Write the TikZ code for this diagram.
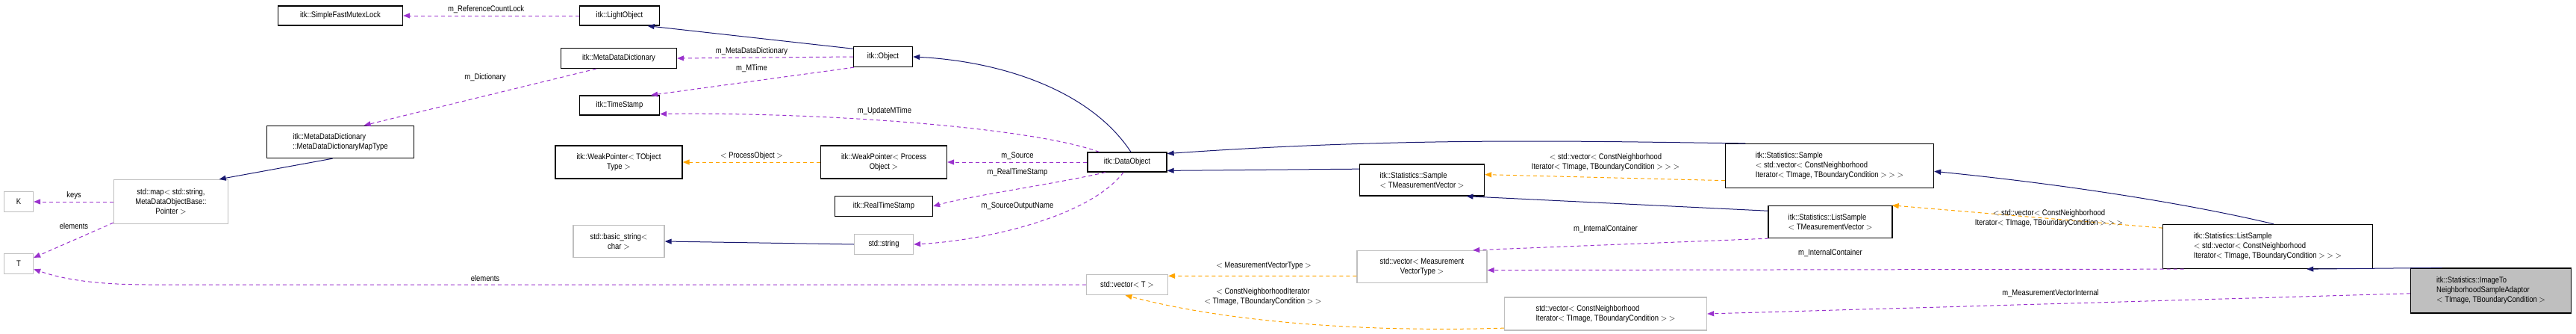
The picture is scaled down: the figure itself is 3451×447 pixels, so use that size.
\documentclass[tikz,border=0pt]{standalone}
\usepackage{fontspec}
\setmainfont{Liberation Sans}[FakeStretch=0.86]
\usetikzlibrary{arrows.meta}
\definecolor{navy}{HTML}{191970}
\definecolor{purp}{HTML}{9A32CD}
\definecolor{orng}{HTML}{FFA500}
\definecolor{gbox}{HTML}{BFBFBF}
\tikzset{
  box/.style={draw=black, line width=1.3pt, fill=white, inner sep=2pt, align=center, font=\fontsize{11}{13}\selectfont},
  gbx/.style={box, draw=gbox},
  lbl/.style={font=\fontsize{11}{13}\selectfont, align=center, inner sep=1pt},
  tip/.style={-{Triangle[length=9pt,width=7pt]}},
  inh/.style={tip, draw=navy, line width=1pt},
  mem/.style={tip, draw=purp, line width=1pt, dash pattern=on 5pt off 4pt},
  tpl/.style={tip, draw=orng, line width=1pt, dash pattern=on 5pt off 4pt},
}
\begin{document}
\begin{tikzpicture}[x=1pt,y=-1pt]
\useasboundingbox (0,0) rectangle (3451,447);
% nodes
\node[box, minimum width=167, minimum height=26] (SFML) at (456,21) {itk::SimpleFastMutexLock};
\node[box, minimum width=107, minimum height=26] (LO) at (830,21) {itk::LightObject};
\node[box, minimum width=155, minimum height=27] (MDD) at (829,78) {itk::MetaDataDictionary};
\node[box, minimum width=79, minimum height=27] (OBJ) at (1183,76) {itk::Object};
\node[box, minimum width=107, minimum height=26] (TS) at (830,141) {itk::TimeStamp};
\node[box, minimum width=197, minimum height=43, align=left] (MDDMT) at (456,190) {itk::MetaDataDictionary\\::MetaDataDictionaryMapType};
\node[gbx, minimum width=153, minimum height=59] (MAP) at (229,270) {std::map$<$ std::string,\\MetaDataObjectBase::\\Pointer $>$};
\node[gbx, minimum width=39, minimum height=27] (K) at (25,270) {K};
\node[gbx, minimum width=39, minimum height=27] (T) at (25,353) {T};
\node[box, minimum width=170, minimum height=44] (WPT) at (829,217) {itk::WeakPointer$<$ TObject\\Type $>$};
\node[box, minimum width=169, minimum height=44] (WPPO) at (1184,217) {itk::WeakPointer$<$ Process\\Object $>$};
\node[box, minimum width=131, minimum height=27] (RTS) at (1184,276) {itk::RealTimeStamp};
\node[gbx, minimum width=122, minimum height=43] (BS) at (829,323) {std::basic\_string$<$\\char $>$};
\node[gbx, minimum width=79, minimum height=27] (STR) at (1184,327) {std::string};
\node[box, minimum width=106, minimum height=26] (DO) at (1510,217) {itk::DataObject};
\node[box, minimum width=167, minimum height=42, align=left] (SMV) at (1905,241) {itk::Statistics::Sample\\$<$ TMeasurementVector $>$};
\node[gbx, minimum width=174, minimum height=43] (VMVT) at (1905,357) {std::vector$<$ Measurement\\VectorType $>$};
\node[gbx, minimum width=109, minimum height=27] (VT) at (1510,381) {std::vector$<$ T $>$};
\node[gbx, minimum width=271, minimum height=44, align=left] (VCN) at (2151,420) {std::vector$<$ ConstNeighborhood\\Iterator$<$ TImage, TBoundaryCondition $>$ $>$};
\node[box, minimum width=279, minimum height=59, align=left] (SV) at (2451,222) {itk::Statistics::Sample\\$<$ std::vector$<$ ConstNeighborhood\\Iterator$<$ TImage, TBoundaryCondition $>$ $>$ $>$};
\node[box, minimum width=166, minimum height=43, align=left] (LSMV) at (2452,297) {itk::Statistics::ListSample\\$<$ TMeasurementVector $>$};
\node[box, minimum width=281, minimum height=59, align=left] (LSV) at (3038,330) {itk::Statistics::ListSample\\$<$ std::vector$<$ ConstNeighborhood\\Iterator$<$ TImage, TBoundaryCondition $>$ $>$ $>$};
\node[box, fill=gbox, minimum width=215, minimum height=60, align=left] (IMG) at (3337,389) {itk::Statistics::ImageTo\\NeighborhoodSampleAdaptor\\$<$ TImage, TBoundaryCondition $>$};
% edges
\draw[mem] (LO.west) -- (SFML.east);
\draw[inh] (OBJ.165) -- (LO.-20);
\draw[mem] (OBJ.west) -- (MDD.east);
\draw[mem] (OBJ.200) -- (TS.18);
\draw[mem] (DO.160) .. controls (1380,170) and (1100,150) .. (TS.-12);
\draw[mem] (MDD.205) -- (MDDMT.35);
\draw[inh] (MDDMT.-115) -- (MAP.25);
\draw[mem] (MAP.west) -- (K.east);
\draw[mem] (MAP.-160) -- (T.22);
\draw[mem] (VT.west) -- (200,381) .. controls (120,381) and (80,372) .. (T.-20);
\draw[inh] (DO.70) .. controls (1460,120) and (1340,82) .. (OBJ.east);
\draw[tpl] (WPPO.west) -- (WPT.east);
\draw[mem] (DO.west) -- (WPPO.east);
\draw[mem] (DO.205) .. controls (1420,245) and (1300,262) .. (RTS.east);
\draw[mem] (DO.-110) .. controls (1460,290) and (1320,322) .. (STR.east);
\draw[inh] (STR.west) -- (BS.east);
\draw[inh] (SV.165) .. controls (2150,190) and (1900,182) .. (DO.12);
\draw[inh] (SMV.170) -- (DO.-12);
\draw[tpl] (SV.188) -- (SMV.5);
\draw[inh] (LSMV.170) -- (SMV.-20);
\draw[inh] (LSV.75) .. controls (2920,270) and (2750,245) .. (SV.-3);
\draw[tpl] (LSV.170) -- (LSMV.15);
\draw[mem] (LSMV.-165) -- (VMVT.18);
\draw[mem] (LSV.195) -- (VMVT.-3);
\draw[tpl] (VMVT.188) -- (VT.12);
\draw[tpl] (VCN.188) .. controls (1820,445) and (1640,430) .. (VT.-100);
\draw[inh] (IMG.155) -- (LSV.-30);
\draw[mem] (IMG.182) -- (VCN.east);
% labels
\node[lbl] (l1) at (651,13) {m\_ReferenceCountLock};
\node[lbl] (l2) at (1007,69) {m\_MetaDataDictionary};
\node[lbl] (l3) at (1007,92) {m\_MTime};
\node[lbl] (l4) at (650,104) {m\_Dictionary};
\node[lbl] (l5) at (1185,149) {m\_UpdateMTime};
\node[lbl] (l6) at (1007,209) {$<$ ProcessObject $>$};
\node[lbl] (l7) at (1363,209) {m\_Source};
\node[lbl] (l8) at (1363,231) {m\_RealTimeStamp};
\node[lbl] (l9) at (1363,276) {m\_SourceOutputName};
\node[lbl] (l10) at (99,262) {keys};
\node[lbl] (l11) at (99,303) {elements};
\node[lbl] (l12) at (650,373) {elements};
\node[lbl] (l13) at (2151,217) {$<$ std::vector$<$ ConstNeighborhood\\Iterator$<$ TImage, TBoundaryCondition $>$ $>$ $>$};
\node[lbl] (l14) at (2151,307) {m\_InternalContainer};
\node[lbl] (l15) at (2745,292) {$<$ std::vector$<$ ConstNeighborhood\\Iterator$<$ TImage, TBoundaryCondition $>$ $>$ $>$};
\node[lbl] (l16) at (2452,339) {m\_InternalContainer};
\node[lbl] (l17) at (1693,356) {$<$ MeasurementVectorType $>$};
\node[lbl] (l18) at (1692,397) {$<$ ConstNeighborhoodIterator\\$<$ TImage, TBoundaryCondition $>$ $>$};
\node[lbl] (l19) at (2747,393) {m\_MeasurementVectorInternal};
\end{tikzpicture}
\end{document}
